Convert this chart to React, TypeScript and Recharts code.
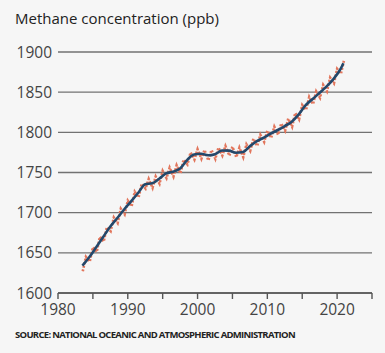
import React from 'react';
import { LineChart, Line, XAxis, YAxis, CartesianGrid } from 'recharts';

// Annual trend (deseasonalised), plotted at mid-year
const trendYears = [1983, 1984, 1985, 1986, 1987, 1988, 1989, 1990, 1991, 1992, 1993, 1994, 1995, 1996, 1997, 1998, 1999, 2000, 2001, 2002, 2003, 2004, 2005, 2006, 2007, 2008, 2009, 2010, 2011, 2012, 2013, 2014, 2015, 2016, 2017, 2018, 2019, 2020];
const trendValues = [1634, 1644.8, 1657.3, 1670.1, 1682.7, 1693.3, 1704.2, 1714.4, 1724.8, 1735.5, 1736.6, 1742.2, 1748.9, 1751.0, 1754.9, 1765.5, 1772.3, 1773.3, 1771.4, 1772.8, 1777.3, 1777.2, 1774.6, 1775.4, 1782.7, 1789.1, 1793.5, 1798.5, 1802.9, 1807.8, 1813.3, 1822.3, 1833.9, 1841.4, 1849.3, 1857.2, 1866.6, 1878.9];
const trendEnd = { year: 2020.9, value: 1886 };

// Seasonal highs (start of year) and lows (mid-year)
const highYears = [1984, 1985, 1986, 1987, 1988, 1989, 1990, 1991, 1992, 1993, 1994, 1995, 1996, 1997, 1998, 1999, 2000, 2001, 2002, 2003, 2004, 2005, 2006, 2007, 2008, 2009, 2010, 2011, 2012, 2013, 2014, 2015, 2016, 2017, 2018, 2019, 2020, 2021];
const highValues = [1645, 1657, 1670, 1682, 1694, 1705, 1715, 1726, 1736, 1742, 1745, 1752, 1756, 1759, 1766, 1775, 1779, 1778, 1778, 1781, 1783, 1782, 1781, 1785, 1792, 1797, 1802, 1807, 1811, 1817, 1824, 1834, 1844, 1851, 1859, 1868, 1879, 1890];
const lowYears = [1983, 1984, 1985, 1986, 1987, 1988, 1989, 1990, 1991, 1992, 1993, 1994, 1995, 1996, 1997, 1998, 1999, 2000, 2001, 2002, 2003, 2004, 2005, 2006, 2007, 2008, 2009, 2010, 2011, 2012, 2013, 2014, 2015, 2016, 2017, 2018, 2019, 2020];
const lowValues = [1627, 1639, 1651, 1664, 1677, 1687, 1698, 1708, 1719, 1730, 1731, 1736, 1743, 1745, 1749, 1760, 1766, 1767, 1765, 1767, 1771, 1771, 1769, 1769, 1777, 1783, 1788, 1793, 1797, 1802, 1807, 1816, 1828, 1835, 1843, 1851, 1861, 1873];

const yTicks = [1600, 1650, 1700, 1750, 1800, 1850, 1900];
const xTicks = [1980, 1985, 1990, 1995, 2000, 2005, 2010, 2015, 2020, 2025];
const xLabelled = [1980, 1990, 2000, 2010, 2020];

const title = 'Methane concentration (ppb)';
const source = 'SOURCE: NATIONAL OCEANIC AND ATMOSPHERIC ADMINISTRATION';

const trendData = [
  ...trendYears.map((y, i) => ({ x: y + 0.5, v: trendValues[i] })),
  { x: trendEnd.year, v: trendEnd.value },
];

const seasonalData = [
  ...lowYears.map((y, i) => ({ x: y + 0.55, v: lowValues[i] })),
  ...highYears.map((y, i) => ({ x: y + 0.0, v: highValues[i] })),
].sort((a, b) => a.x - b.x);

const FONT = '"Open Sans", "Noto Sans", sans-serif';

export default function App() {
  return (
    <div style={{ position: 'absolute', left: 0, top: 0, width: 385, height: 353, background: '#f6f6f6', fontFamily: FONT }}>
      <div style={{ position: 'absolute', left: 15, top: 8, fontSize: 15, color: '#222', whiteSpace: 'nowrap' }}>{title}</div>
      <LineChart width={385} height={353} margin={{ top: 52, right: 13, bottom: 30, left: 8 }}>
        <CartesianGrid horizontal vertical={false} stroke="#727272" strokeWidth={1.4} />
        <XAxis
          type="number"
          dataKey="x"
          domain={[1980, 2025]}
          ticks={xTicks}
          allowDataOverflow
          tickFormatter={(t) => (xLabelled.includes(t) ? String(t) : '')}
          tick={{ fill: '#444', fontSize: 15.5, fontFamily: FONT }}
          axisLine={{ stroke: '#555', strokeWidth: 1.4 }}
          tickLine={{ stroke: '#555', strokeWidth: 1.4 }}
          tickSize={6}
          tickMargin={5}
          height={30}
        />
        <YAxis
          type="number"
          domain={[1600, 1900]}
          ticks={yTicks}
          axisLine={false}
          tickLine={false}
          tickSize={0}
          tickMargin={6}
          width={50}
          tick={{ fill: '#444', fontSize: 15.5, fontFamily: FONT }}
        />
        <Line data={seasonalData} dataKey="v" type="linear" stroke="#e2765c" strokeWidth={2.6} strokeDasharray="2 1.6" dot={false} isAnimationActive={false} />
        <Line data={trendData} dataKey="v" type="monotone" stroke="#23486b" strokeWidth={2.6} dot={false} isAnimationActive={false} />
      </LineChart>
      <div style={{ position: 'absolute', left: 15, top: 328, fontSize: 9.5, fontWeight: 700, letterSpacing: -0.7, color: '#222', whiteSpace: 'nowrap' }}>{source}</div>
    </div>
  );
}
